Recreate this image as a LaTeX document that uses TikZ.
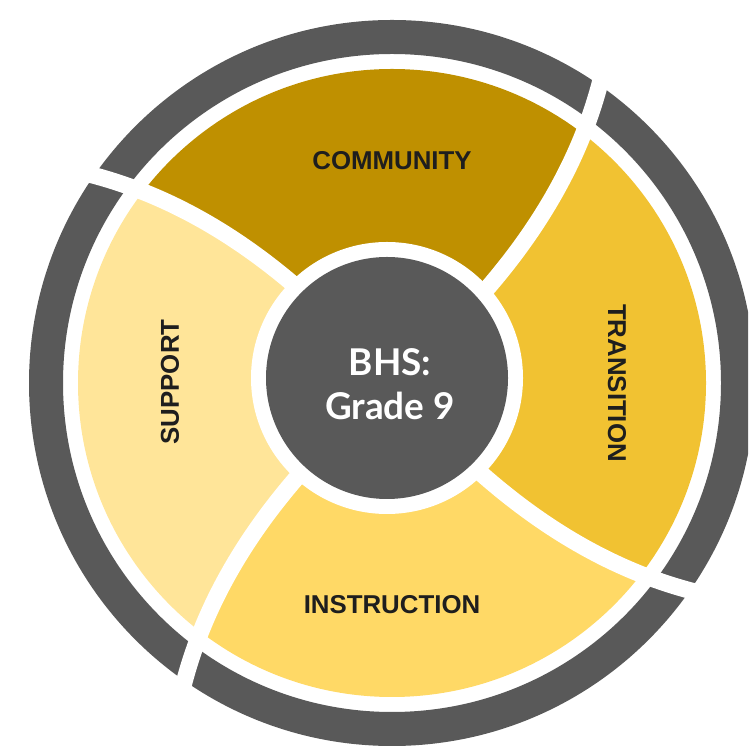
\documentclass[tikz,border=0pt]{standalone}
\usepackage{fontspec}
\setmainfont{Liberation Sans}
\newfontfamily\hubfont{Lato}
\usetikzlibrary{positioning}
\definecolor{ringgray}{RGB}{89, 89, 89}
\definecolor{communitygold}{RGB}{191, 144, 0}
\definecolor{transitionyellow}{RGB}{241, 194, 50}
\definecolor{instructionyellow}{RGB}{255, 217, 102}
\definecolor{supportyellow}{RGB}{255, 229, 153}
\definecolor{labelink}{RGB}{30, 30, 30}

\tikzset{
  seglabel/.style={font=\fontsize{14.7}{17}\selectfont\bfseries, text=labelink, inner sep=0pt},
  hubtext/.style={font=\hubfont\fontsize{21}{25}\selectfont\bfseries, text=white, align=center, inner sep=0pt},
  divider/.style={white, line width=9.5pt},
}
% angle offset of a divider at radius #1
\newcommand{\swirl}[1]{0.0339*(#1-140)+(0.0072*(#1-140))*(0.0072*(#1-140))}

\begin{document}
\begin{tikzpicture}[x=0.02cm, y=0.02cm]
\useasboundingbox (0,0) rectangle (748,750);
\clip (0,0) rectangle (748,750);
\coordinate (ctr) at (392,367);
\coordinate (hubc) at (387,372);

\begin{scope}[shift={(ctr)}]
% Outer ring
\fill[ringgray, even odd rule] (0,0) circle[radius=363] (0,0) circle[radius=329];

% Segments
\begin{scope}
\clip (0,0) circle[radius=314];
\foreach \a/\col in {45/communitygold, 135/supportyellow, 225/instructionyellow, 315/transitionyellow}
  \fill[\col] plot[domain=0:500, samples=40] ({\a+\swirl{\x}}:{\x})
    -- plot[domain=500:0, samples=40] ({\a+90+\swirl{\x}}:{\x}) -- cycle;
\end{scope}

% Dividers (also cut the ring)
\foreach \a in {45,135,225,315}
  \draw[divider] plot[domain=120:390, samples=40] ({\a+\swirl{\x}}:{\x});
\end{scope}

% Hub
\fill[white] (hubc) circle[radius=136];
\fill[ringgray] (hubc) circle[radius=121];
\node[hubtext] (hub) at (390,366) {BHS:\\Grade 9};

% Labels
\node[seglabel] (community) at (392,589) {COMMUNITY};
\node[seglabel, rotate=-90] (transition) at (617,367) {TRANSITION};
\node[seglabel] (instruction) at (392,145) {INSTRUCTION};
\node[seglabel, rotate=90] (support) at (170,368) {SUPPORT};
\end{tikzpicture}
\end{document}
